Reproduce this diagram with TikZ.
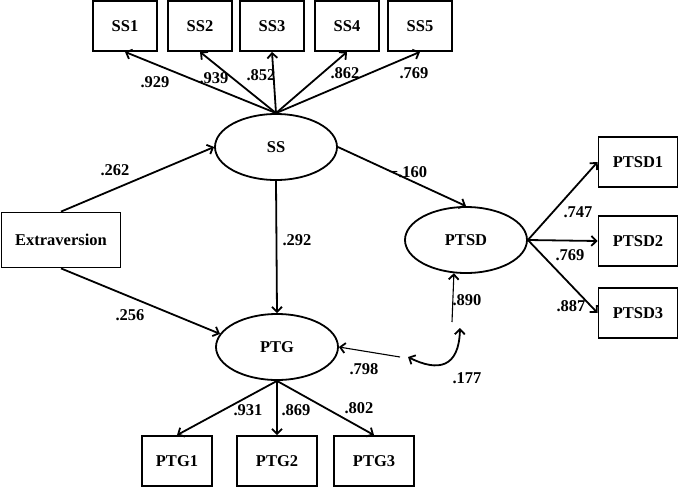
\documentclass[tikz,border=0pt]{standalone}
\usepackage{fontspec}
\setmainfont{Liberation Serif}
\usetikzlibrary{shapes.geometric,arrows.meta}
\begin{document}
\begin{tikzpicture}[x=1pt,y=-1pt,
  font=\fontsize{16.5}{19}\selectfont\bfseries,
  box/.style={draw,line width=1.8pt,minimum height=50pt,inner sep=0pt},
  lat/.style={draw,ellipse,line width=1.8pt,minimum width=122pt,minimum height=66pt,inner sep=0pt},
  path/.style={line width=1.8pt,-{Straight Barb[length=5pt,width=10pt,line width=1.8pt]}},
  thin/.style={line width=1.1pt,-{Straight Barb[length=5pt,width=10pt,line width=1.8pt]}},
  coef/.style={inner sep=0pt}]
\useasboundingbox (0,0) rectangle (680,490);
% observed boxes
\node[box,minimum width=64pt] (ss1) at (125,26) {SS1};
\node[box,minimum width=64pt] (ss2) at (200,26) {SS2};
\node[box,minimum width=64pt] (ss3) at (272,26) {SS3};
\node[box,minimum width=64pt] (ss4) at (347,26) {SS4};
\node[box,minimum width=64pt] (ss5) at (420,26) {SS5};
\node[box,minimum width=79pt] (pd1) at (638,162) {PTSD1};
\node[box,minimum width=79pt] (pd2) at (638,241) {PTSD2};
\node[box,minimum width=79pt] (pd3) at (638,313) {PTSD3};
\node[box,minimum width=70pt] (pg1) at (177,461) {PTG1};
\node[box,minimum width=80pt] (pg2) at (277,461) {PTG2};
\node[box,minimum width=80pt] (pg3) at (374,461) {PTG3};
\node[box,minimum width=119pt,minimum height=55pt] (ext) at (61,240) {Extraversion};
% latents
\node[lat] (ss) at (276,147) {SS};
\node[lat] (ptg) at (277,347) {PTG};
\node[lat] (ptsd) at (466,240) {PTSD};
% loadings
\foreach \b in {ss1,ss2,ss3,ss4,ss5} \draw[path] (ss.north) -- (\b.south);
\foreach \b in {pd1,pd2,pd3} \draw[path] (ptsd.east) -- (\b.west);
\foreach \b in {pg1,pg2,pg3} \draw[path] (ptg.south) -- (\b.north);
% structural
\draw[path] (ext.north) -- (ss.west);
\draw[path] (ext.south) -- (ptg.167);
\draw[path] (ss.south) -- (ptg.north);
\draw[path] (ss.east) -- (ptsd.north);
% residuals
\coordinate (e1) at (400,357);
\coordinate (e2) at (452,322);
\coordinate (c1) at (408,357);
\coordinate (c2) at (460,328);
\draw[thin] (e1) -- (ptg.east);
\draw[thin] (e2) -- (ptsd.250);
\draw[line width=1.8pt,{Straight Barb[length=5pt,width=10pt,line width=1.8pt]}-{Straight Barb[length=5pt,width=10pt,line width=1.8pt]}]
  (c1) .. controls (438,372) and (459,368) .. (c2);
% coefficients
\node[coef] (l1) at (155,82) {.929};
\node[coef] (l2) at (214,78) {.939};
\node[coef] (l3) at (261,75) {.852};
\node[coef] (l4) at (345,73) {.862};
\node[coef] (l5) at (414,73) {.769};
\node[coef] (l6) at (115,170) {.262};
\node[coef] (l7) at (130,315) {.256};
\node[coef] (l8) at (297,240) {.292};
\node[coef] (l9) at (408,172) {−.160};
\node[coef] (l10) at (578,212) {.747};
\node[coef] (l11) at (570,255) {.769};
\node[coef] (l12) at (571,306) {.887};
\node[coef] (l13) at (248,410) {.931};
\node[coef] (l14) at (296,410) {.869};
\node[coef] (l15) at (359,408) {.802};
\node[coef] (l16) at (364,369) {.798};
\node[coef] (l17) at (467,300) {.890};
\node[coef] (l18) at (467,378) {.177};
\end{tikzpicture}
\end{document}
